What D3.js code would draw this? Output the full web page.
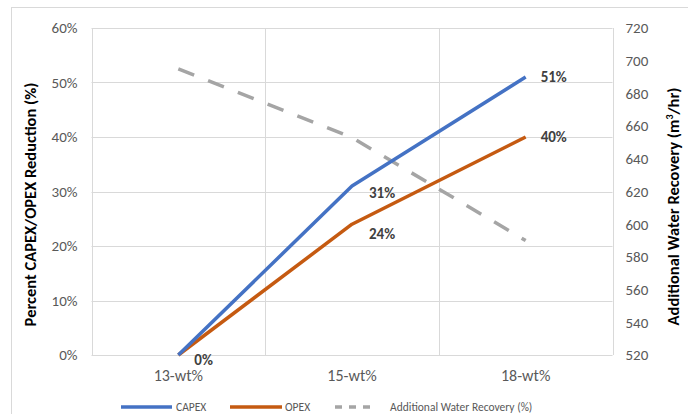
<!DOCTYPE html>
<html><head><meta charset="utf-8">
<script src="https://cdn.jsdelivr.net/npm/d3@7"></script>
<style>body{margin:0;background:#fff}svg{display:block}text{font-family:Carlito,Lato,"Open Sans",sans-serif}</style>
</head><body>
<script>
const categories = ["13-wt%", "15-wt%", "18-wt%"];
const capex = [0, 31, 51];
const opex = [0, 24, 40];
const water = [695, 653, 590];
const leftTicks = [0, 10, 20, 30, 40, 50, 60];
const rightTicks = [520, 540, 560, 580, 600, 620, 640, 660, 680, 700, 720];

const W = 688, H = 414;
const svg = d3.select("body").append("svg").attr("width", W).attr("height", H);
svg.append("rect").attr("x", 11.5).attr("y", 7.5).attr("width", 690).attr("height", 420)
  .attr("fill", "#fff").attr("stroke", "#d9d9d9");

const L = 91.5, R = 612.5, T = 28, B = 355;
const x = d3.scaleBand().domain(categories).range([L, R]);
const yL = d3.scaleLinear().domain([0, 60]).range([B, T]);
const yR = d3.scaleLinear().domain([520, 720]).range([B, T]);

// gridlines
svg.append("g").selectAll("line").data(leftTicks).join("line")
  .attr("x1", L).attr("x2", R).attr("y1", d => Math.round(yL(d)) + 0.5).attr("y2", d => Math.round(yL(d)) + 0.5)
  .attr("stroke", "#d9d9d9").attr("stroke-width", 1);
const vlines = [L, x(categories[1]), x(categories[2]), R];
svg.append("g").selectAll("line").data(vlines).join("line")
  .attr("x1", d => Math.round(d) + 0.5).attr("x2", d => Math.round(d) + 0.5).attr("y1", T).attr("y2", B)
  .attr("stroke", "#d9d9d9").attr("stroke-width", 1);

// left axis
const gl = svg.append("g").attr("transform", `translate(${L},0)`)
  .call(d3.axisLeft(yL).tickValues(leftTicks).tickFormat(d => d + "%").tickSize(0).tickPadding(14));
gl.select(".domain").remove();
gl.selectAll("text").attr("fill", "#595959").style("font-size", "15px");

// right axis
const gr = svg.append("g").attr("transform", `translate(${R},0)`)
  .call(d3.axisRight(yR).tickValues(rightTicks).tickSize(0).tickPadding(13));
gr.select(".domain").remove();
gr.selectAll("text").attr("fill", "#595959").style("font-size", "15px");

// bottom axis
const gb = svg.append("g").attr("transform", `translate(0,${B})`)
  .call(d3.axisBottom(x).tickSize(0).tickPadding(15));
gb.select(".domain").remove();
gb.selectAll("text").attr("fill", "#595959").style("font-size", "16px");

// axis titles
svg.append("text").attr("transform", `translate(36,${(T + B) / 2 + 13}) rotate(-90)`)
  .attr("text-anchor", "middle").attr("font-weight", "bold").attr("fill", "#000").style("font-size", "16.5px")
  .text("Percent CAPEX/OPEX Reduction (%)");
const rt = svg.append("text").attr("transform", `translate(679,${(T + B) / 2 + 15}) rotate(-90)`)
  .attr("text-anchor", "middle").attr("font-weight", "bold").attr("fill", "#000").style("font-size", "16.5px");
rt.append("tspan").text("Additional Water Recovery (m");
rt.append("tspan").attr("dy", -6).style("font-size", "10px").text("3");
rt.append("tspan").attr("dy", 6).text("/hr)");

const cx = d => x(d) + x.bandwidth() / 2;

// lines
svg.append("path").datum(water.map((v, i) => [cx(categories[i]), yR(v)]))
  .attr("d", d3.line()).attr("fill", "none").attr("stroke", "#a5a5a5").attr("stroke-width", 3.5)
  .attr("stroke-dasharray", "17,15");
svg.append("path").datum(opex.map((v, i) => [cx(categories[i]), yL(v)]))
  .attr("d", d3.line()).attr("fill", "none").attr("stroke", "#c55a11").attr("stroke-width", 3.5)
  .attr("stroke-linejoin", "round");
svg.append("path").datum(capex.map((v, i) => [cx(categories[i]), yL(v)]))
  .attr("d", d3.line()).attr("fill", "none").attr("stroke", "#4472c4").attr("stroke-width", 3.5)
  .attr("stroke-linejoin", "round");

// data labels
const labels = [
  {v: capex[0], i: 0, dx: 16, dy: 10},
  {v: capex[1], i: 1, dx: 17, dy: 12},
  {v: capex[2], i: 2, dx: 15, dy: 5},
  {v: opex[1], i: 1, dx: 17, dy: 15},
  {v: opex[2], i: 2, dx: 15, dy: 5}
];
svg.append("g").selectAll("text").data(labels).join("text")
  .attr("x", d => cx(categories[d.i]) + d.dx)
  .attr("y", d => yL(d.v) + d.dy)
  .attr("font-weight", "bold").attr("fill", "#404040").style("font-size", "15px")
  .text(d => d.v + "%");

// legend
const leg = [
  {name: "CAPEX", color: "#4472c4", dash: null, x1: 121, x2: 172, tx: 176},
  {name: "OPEX", color: "#c55a11", dash: null, x1: 230, x2: 282, tx: 285},
  {name: "Additional Water Recovery (%)", color: "#a5a5a5", dash: "7,7", x1: 335, x2: 376, tx: 390}
];
const lg = svg.append("g");
leg.forEach(d => {
  lg.append("line").attr("x1", d.x1).attr("x2", d.x2).attr("y1", 407).attr("y2", 407)
    .attr("stroke", d.color).attr("stroke-width", 3.5).attr("stroke-dasharray", d.dash);
  lg.append("text").attr("x", d.tx).attr("y", 411).attr("fill", "#595959").style("font-size", "11.5px").text(d.name);
});
</script>
</body></html>
